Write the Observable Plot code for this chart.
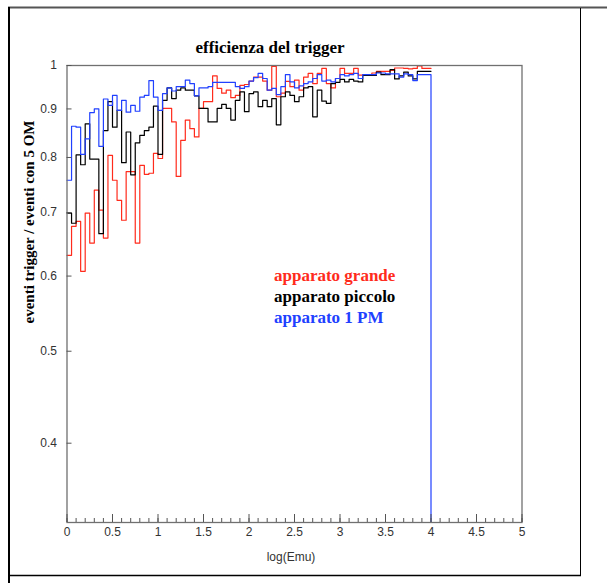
<!DOCTYPE html>
<html><head><meta charset="utf-8">
<script src="https://cdn.jsdelivr.net/npm/d3@7"></script>
<script src="https://cdn.jsdelivr.net/npm/@observablehq/plot@0.6"></script>
<style>
body{margin:0;background:#fff;}
#wrap{position:relative;width:607px;height:583px;overflow:hidden;}
</style></head><body><div id="wrap"></div>
<script>
// histogram bins: start and width on log(Emu)
const binStart = 0, binWidth = 0.05;
const grande = [
 0.631,0.677,0.685,0.607,0.699,0.650,0.739,0.704,0.658,0.804,
 0.757,0.721,0.687,0.773,0.773,0.650,0.785,0.768,0.770,0.808,
 0.798,0.901,0.901,0.872,0.764,0.834,0.876,0.858,0.841,0.901,
 0.916,0.916,0.975,0.946,0.935,0.942,0.925,0.930,0.953,0.955,
 0.963,0.972,0.972,0.963,0.942,0.998,0.927,0.935,0.962,0.950,
 0.965,0.942,0.972,0.981,0.957,0.981,0.993,0.957,0.947,0.969,
 0.993,0.981,0.981,0.993,0.977,0.978,0.978,0.982,0.986,0.986,
 0.986,0.988,0.994,0.994,0.993,0.992,0.993,0.999,0.993,0.993];
const piccolo = [
 0.699,0.682,0.805,0.786,0.868,0.797,0.797,0.665,0.854,0.916,
 0.861,0.897,0.790,0.851,0.767,0.829,0.844,0.854,0.861,0.906,
 0.806,0.919,0.947,0.923,0.942,0.947,0.942,0.942,0.929,0.901,
 0.901,0.872,0.872,0.901,0.910,0.901,0.876,0.919,0.938,0.894,
 0.934,0.938,0.905,0.919,0.905,0.923,0.866,0.927,0.938,0.930,
 0.916,0.927,0.947,0.950,0.883,0.942,0.917,0.912,0.957,0.960,
 0.967,0.961,0.967,0.963,0.961,0.976,0.976,0.976,0.984,0.978,
 0.978,0.990,0.968,0.975,0.984,0.975,0.968,0.986,0.986,0.986];
const unPM = [
 0.757,0.863,0.861,0.806,0.837,0.892,0.900,0.822,0.922,0.908,
 0.930,0.897,0.919,0.893,0.908,0.895,0.926,0.930,0.964,0.926,
 0.897,0.934,0.947,0.940,0.950,0.950,0.965,0.957,0.929,0.947,
 0.947,0.950,0.960,0.960,0.960,0.960,0.960,0.950,0.946,0.950,
 0.963,0.971,0.981,0.969,0.942,0.946,0.932,0.950,0.978,0.961,
 0.947,0.952,0.957,0.961,0.969,0.978,0.963,0.965,0.961,0.969,
 0.978,0.975,0.978,0.981,0.969,0.978,0.978,0.978,0.982,0.982,
 0.980,0.980,0.980,0.972,0.980,0.978,0.964,0.978,0.978,0.978];

const seriesNames = ["apparato grande","apparato piccolo","apparato 1 PM"];
const seriesColors = ["#ff2b1c","#000000","#2040ff"];
const xTicks = [0,0.5,1,1.5,2,2.5,3,3.5,4,4.5,5];
const xMinorTicks = d3.range(0,51).map(i=>i/10);
const yTicks = [0.4,0.5,0.6,0.7,0.8,0.9,1];
const xDomain = [0,5];
const yDomain = [0.33,1];

// histogram outline; the last drawn series closes down to the baseline
function outline(vals, drop){
  const pts = [];
  vals.forEach((v,i)=>pts.push({x:binStart+i*binWidth, y:v}));
  const end = binStart + vals.length*binWidth;
  pts.push({x:end, y:vals[vals.length-1]});
  if (drop) pts.push({x:end, y:yDomain[0]});
  return pts;
}
const series = [grande, piccolo, unPM];

const fmt = d => String(d);
const none = () => "";
const svg = Plot.plot({
  width:607, height:583,
  marginLeft:66.5, marginRight:85.5, marginTop:65, marginBottom:61,
  x:{domain:xDomain},
  y:{type:"log", domain:yDomain},
  style:{fontFamily:"'Liberation Sans', Arial, sans-serif", fontSize:"12px", color:"#333", background:"white", overflow:"visible"},
  marks:[
    ...series.map((s,k)=>Plot.line(outline(s, k === series.length-1), {x:"x", y:"y", curve:"step-after", stroke:seriesColors[k], strokeWidth:1.2})),
    Plot.frame({stroke:"#707070", strokeWidth:1.3}),
    Plot.axisX(xTicks, {tickSize:0, tickPadding:5, tickFormat:fmt, label:null, fill:"#333"}),
    Plot.axisX(xMinorTicks, {tickSize:-4, tickFormat:none, label:null, stroke:"#555"}),
    Plot.axisX(xTicks, {tickSize:-8, tickFormat:none, label:null, stroke:"#555"}),
    Plot.axisY(yTicks, {tickSize:-5, tickPadding:15, tickFormat:fmt, label:null, stroke:"#555", fill:"#333"})
  ]
});
document.getElementById("wrap").appendChild(svg);

const s = d3.select(svg);
// window frame
s.append("line").attr("x1",8).attr("x2",607).attr("y1",7.5).attr("y2",7.5).attr("stroke","#555").attr("stroke-width",2);
s.append("line").attr("x1",9).attr("x2",9).attr("y1",7).attr("y2",583).attr("stroke","#000").attr("stroke-width",2);
s.append("line").attr("x1",580.5).attr("x2",580.5).attr("y1",8).attr("y2",576).attr("stroke","#000").attr("stroke-width",1);
s.append("line").attr("x1",9).attr("x2",581).attr("y1",575.5).attr("y2",575.5).attr("stroke","#000").attr("stroke-width",1.5);

const serif = "'Liberation Serif','Times New Roman',serif";
s.append("text").attr("x",270).attr("y",53).attr("text-anchor","middle")
  .attr("font-family",serif).attr("font-weight","bold").attr("font-size",17).attr("fill","#000")
  .text("efficienza del trigger");
s.append("text").attr("transform","translate(34,222) rotate(-90)").attr("text-anchor","middle")
  .attr("font-family",serif).attr("font-weight","bold").attr("font-size",15).attr("fill","#000")
  .text("eventi trigger / eventi con 5 OM");
s.append("text").attr("x",291).attr("y",561).attr("text-anchor","middle")
  .attr("font-family","'Liberation Sans',Arial,sans-serif").attr("font-size",12).attr("fill","#333")
  .text("log(Emu)");
seriesNames.forEach((n,k)=>{
  s.append("text").attr("x",274).attr("y",281+21*k).attr("text-anchor","start")
    .attr("font-family",serif).attr("font-weight","bold").attr("font-size",17).attr("fill",seriesColors[k])
    .text(n);
});
</script></body></html>
